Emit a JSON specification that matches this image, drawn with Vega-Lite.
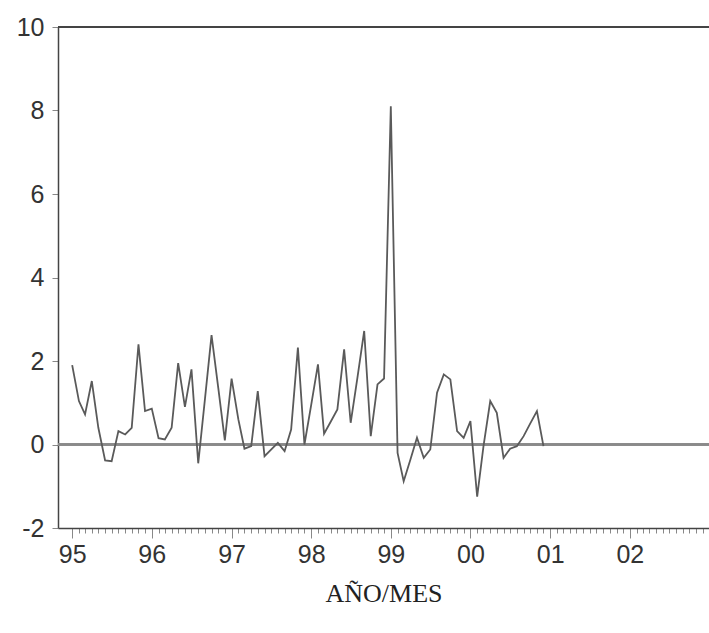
{
  "$schema": "https://vega.github.io/schema/vega-lite/v6.json",
  "autosize": {"type": "none"},
  "width": 651,
  "height": 501,
  "padding": {"left": 58, "top": 27, "right": 0, "bottom": 105},
  "background": "white",
  "config": {"view": {"stroke": null}},
  "data": {"values": [
    {"date": "1995-01-01", "value": 1.9}, {"date": "1995-02-01", "value": 1.04}, {"date": "1995-03-01", "value": 0.72}, {"date": "1995-04-01", "value": 1.52},
    {"date": "1995-05-01", "value": 0.4}, {"date": "1995-06-01", "value": -0.38}, {"date": "1995-07-01", "value": -0.4}, {"date": "1995-08-01", "value": 0.32},
    {"date": "1995-09-01", "value": 0.24}, {"date": "1995-10-01", "value": 0.4}, {"date": "1995-11-01", "value": 2.4}, {"date": "1995-12-01", "value": 0.8},
    {"date": "1996-01-01", "value": 0.86}, {"date": "1996-02-01", "value": 0.15}, {"date": "1996-03-01", "value": 0.12}, {"date": "1996-04-01", "value": 0.4},
    {"date": "1996-05-01", "value": 1.95}, {"date": "1996-06-01", "value": 0.9}, {"date": "1996-07-01", "value": 1.8}, {"date": "1996-08-01", "value": -0.45},
    {"date": "1996-09-01", "value": 1.1}, {"date": "1996-10-01", "value": 2.62}, {"date": "1996-11-01", "value": 1.35}, {"date": "1996-12-01", "value": 0.1},
    {"date": "1997-01-01", "value": 1.58}, {"date": "1997-02-01", "value": 0.6}, {"date": "1997-03-01", "value": -0.1}, {"date": "1997-04-01", "value": -0.04},
    {"date": "1997-05-01", "value": 1.28}, {"date": "1997-06-01", "value": -0.28}, {"date": "1997-07-01", "value": -0.12}, {"date": "1997-08-01", "value": 0.04},
    {"date": "1997-09-01", "value": -0.16}, {"date": "1997-10-01", "value": 0.36}, {"date": "1997-11-01", "value": 2.32}, {"date": "1997-12-01", "value": 0.0},
    {"date": "1998-01-01", "value": 0.95}, {"date": "1998-02-01", "value": 1.92}, {"date": "1998-03-01", "value": 0.26}, {"date": "1998-04-01", "value": 0.55},
    {"date": "1998-05-01", "value": 0.84}, {"date": "1998-06-01", "value": 2.28}, {"date": "1998-07-01", "value": 0.52}, {"date": "1998-08-01", "value": 1.6},
    {"date": "1998-09-01", "value": 2.72}, {"date": "1998-10-01", "value": 0.2}, {"date": "1998-11-01", "value": 1.44}, {"date": "1998-12-01", "value": 1.58},
    {"date": "1999-01-01", "value": 8.1}, {"date": "1999-02-01", "value": -0.2}, {"date": "1999-03-01", "value": -0.88}, {"date": "1999-04-01", "value": -0.36},
    {"date": "1999-05-01", "value": 0.16}, {"date": "1999-06-01", "value": -0.32}, {"date": "1999-07-01", "value": -0.12}, {"date": "1999-08-01", "value": 1.24},
    {"date": "1999-09-01", "value": 1.68}, {"date": "1999-10-01", "value": 1.56}, {"date": "1999-11-01", "value": 0.32}, {"date": "1999-12-01", "value": 0.16},
    {"date": "2000-01-01", "value": 0.56}, {"date": "2000-02-01", "value": -1.25}, {"date": "2000-03-01", "value": -0.04}, {"date": "2000-04-01", "value": 1.04},
    {"date": "2000-05-01", "value": 0.76}, {"date": "2000-06-01", "value": -0.32}, {"date": "2000-07-01", "value": -0.1}, {"date": "2000-08-01", "value": -0.04},
    {"date": "2000-09-01", "value": 0.2}, {"date": "2000-10-01", "value": 0.5}, {"date": "2000-11-01", "value": 0.8}, {"date": "2000-12-01", "value": -0.04}
  ]},
  "layer": [
    {
      "mark": {"type": "rule", "color": "#8a8a8a", "strokeWidth": 1.4},
      "encoding": {
        "x": {"datum": {"year": 1994, "month": 10, "date": 28, "utc": true}, "type": "temporal",
          "axis": {"orient": "bottom", "labels": false, "domain": false, "title": null, "grid": false,
            "tickCount": {"interval": "month", "step": 1}, "tickSize": 5, "tickColor": "#888", "tickWidth": 1,
            "tickOpacity": {"condition": {"test": "datum.value < utc(1995,0,1)", "value": 0}, "value": 1}}},
        "x2": {"datum": {"year": 2002, "month": 12, "date": 30, "utc": true}},
        "y": {"datum": 0, "type": "quantitative"}
      }
    },
    {
      "mark": {"type": "rule", "color": "#444", "strokeWidth": 1.5},
      "encoding": {"y": {"datum": 10, "type": "quantitative"}}
    },
    {
      "mark": {"type": "line", "color": "#5a5a5a", "strokeWidth": 1.8},
      "encoding": {
        "x": {"field": "date", "type": "temporal",
          "scale": {"type": "utc", "domain": [{"year": 1994, "month": 10, "date": 28, "utc": true}, {"year": 2002, "month": 12, "date": 30, "utc": true}], "nice": false},
          "axis": {"orient": "bottom", "format": "%y", "tickCount": {"interval": "year", "step": 1}, "grid": false,
            "domainColor": "#444", "domainWidth": 1.5, "tickColor": "#888", "tickSize": 10, "tickWidth": 1,
            "labelFont": "Liberation Sans", "labelFontSize": 25, "labelColor": "#333", "labelPadding": 4, "labelFlush": false,
            "title": "AÑO/MES", "titleFont": "Liberation Serif", "titleFontSize": 26, "titleFontWeight": "normal", "titleColor": "#222", "titlePadding": 13}},
        "y": {"field": "value", "type": "quantitative",
          "scale": {"domain": [-2, 10], "nice": false, "zero": false},
          "axis": {"values": [-2, 0, 2, 4, 6, 8, 10], "grid": false, "title": null,
            "labelExpr": "datum.value < 0 ? '-' + abs(datum.value) : '' + datum.value",
            "domainColor": "#444", "domainWidth": 1.5, "tickColor": "#888", "tickSize": 6, "tickWidth": 1,
            "labelFont": "Liberation Sans", "labelFontSize": 25, "labelColor": "#333", "labelPadding": 8}}
      }
    }
  ],
  "resolve": {"axis": {"x": "independent"}}
}
